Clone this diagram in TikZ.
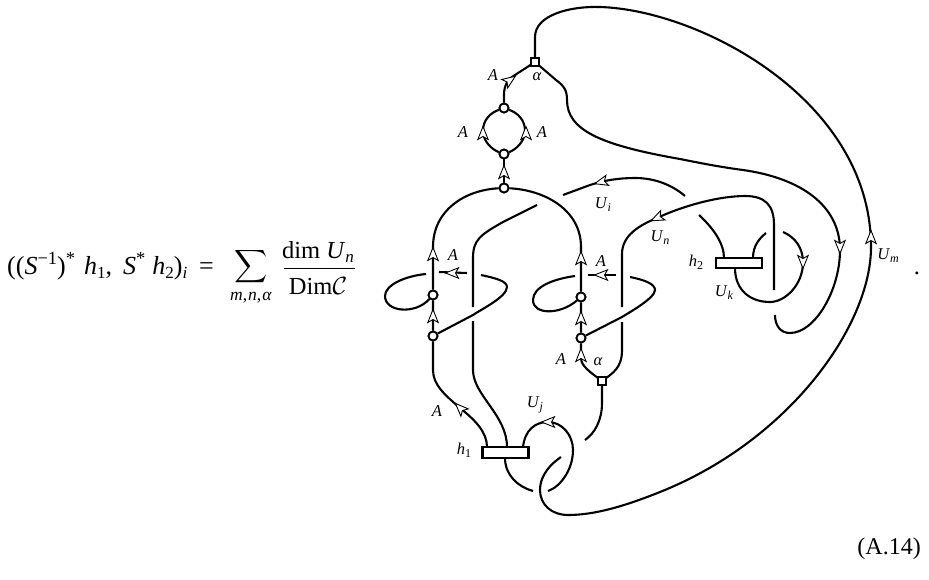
\documentclass[tikz,border=0pt]{standalone}
\usepackage{fontspec}
\setmainfont{Liberation Serif}
\newcommand{\lab}[2]{\textit{#1}\raisebox{-3pt}{\fontsize{12}{12}\selectfont\textit{#2}}}
\newcommand{\bigsup}[1]{\raisebox{9.5pt}{\fontsize{18.5}{18.5}\selectfont #1}}
\newcommand{\bigsub}[1]{\raisebox{-4pt}{\fontsize{17}{17}\selectfont #1}}
\tikzset{
  x=1pt,y=-1pt,
  wire/.style={line width=2.1pt,line cap=butt,line join=round},
  dot/.style={circle,draw,fill=white,line width=1.8pt,minimum size=9pt,inner sep=0pt},
  sq/.style={rectangle,draw,fill=white,line width=1.7pt,minimum size=8pt,inner sep=0pt},
  coup/.style={rectangle,draw,fill=white,line width=2.1pt,inner sep=0pt,minimum width=46pt,minimum height=10.5pt},
  lbl/.style={inner sep=0pt,font=\fontsize{16.5}{16.5}\selectfont},
  eq/.style={inner sep=0pt,font=\fontsize{24.5}{26}\selectfont},
  head/.pic={\filldraw[fill=white,line width=0.9pt,line join=miter] (6.5,0) -- (-6.5,5.2) -- (-3.5,0) -- (-6.5,-5.2) -- cycle;}
}
\begin{document}
\begin{tikzpicture}
\useasboundingbox (0,0) rectangle (929,579);
% vertices
\node[sq] (s1) at (535,62) {};
\node[sq,minimum size=7.5pt] (s2) at (602,381) {};
\node[dot] (a) at (504,108) {};
\node[dot] (b) at (504,154) {};
\node[dot] (c) at (504,188) {};
\node[dot] (l1) at (433,295) {};
\node[dot] (l2) at (433,336) {};
\node[dot] (r1) at (581,297) {};
\node[dot] (r2) at (581,338) {};
\node[coup] (h1) at (505.5,452.5) {};
\node[coup] (h2) at (739,263) {};
% free ends
\coordinate (e1) at (537,205);
\coordinate (e2) at (563,195);
\coordinate (e3) at (685,196);
\coordinate (e4) at (699,215);
\coordinate (e5) at (774,290);
\coordinate (e6) at (775,315);
\coordinate (e7) at (766,233);
\coordinate (e8) at (783,232);
\coordinate (e9) at (533,491);
\coordinate (e10) at (548,491);
\coordinate (e11) at (561,457);
\coordinate (e12) at (585,440);
\coordinate (la) at (426,274);
\coordinate (lb) at (467,273);
\coordinate (lc) at (439,272);
\coordinate (ld) at (481,275);
\coordinate (ra) at (575,276);
\coordinate (rb) at (616,275);
\coordinate (rc) at (588,275);
\coordinate (rd) at (630,277);
\begin{scope}[wire]
% outer arcs
\draw (s1.center) -- (535,37) .. controls (535,15) and (570,6) .. (600,7) .. controls (700,10) and (871,100) .. (871,247) .. controls (871,325) and (790,440) .. (660,492) .. controls (625,506) and (595,515) .. (568,515) .. controls (552,515) and (540,505) .. (540,490) .. controls (540,480) and (545,468) .. (e11);
\draw (s1.center) -- (556,80) .. controls (564,86) and (567,90) .. (567,100) .. controls (567,130) and (600,145) .. (680,159) .. controls (700,163) and (720,167) .. (743,170) .. controls (800,178) and (840,205) .. (840,250) .. controls (840,290) and (815,333) .. (790,333) .. controls (780,333) and (775,325) .. (e6);
% top loop
\draw (s1.center) -- (515,75) .. controls (508,79) and (504,85) .. (504,95) -- (a);
\draw (a) .. controls (490,113) and (483,120) .. (483,131) .. controls (483,142) and (493,150) .. (b);
\draw (a) .. controls (518,113) and (525,120) .. (525,131) .. controls (525,142) and (515,150) .. (b);
\draw (b) -- (c);
% main arch
\draw (c) .. controls (465,190) and (433,210) .. (433,247) -- (l1) -- (l2) -- (433,370) .. controls (433,385) and (445,395) .. (460,408) .. controls (475,420) and (487,432) .. (487,447);
\draw (c) .. controls (545,190) and (581,210) .. (581,247) -- (r1) -- (r2) -- (581,358) .. controls (581,366) and (590,372) .. (s2.center);
% second strand
\draw (e1) -- (503,222) .. controls (480,235) and (473,240) .. (473,258) -- (473,307);
\draw (473,321) -- (473,370) .. controls (473,395) and (507,415) .. (507,447);
% left twist
\draw (lc) -- (lb);
\draw (la) .. controls (405,276) and (385,285) .. (385,296) .. controls (385,312) and (415,315) .. (l1);
\draw (ld) .. controls (495,278) and (507,281) .. (507,287) .. controls (507,297) and (480,310) .. (473,315) -- (l2);
% right twist
\draw (rc) -- (rb);
\draw (ra) .. controls (553,279) and (533,287) .. (533,300) .. controls (533,315) and (560,315) .. (r1);
\draw (rd) .. controls (645,280) and (655,284) .. (655,290) .. controls (655,298) and (630,312) .. (622,317) -- (r2);
% U_i
\draw (e2) -- (590,185) .. controls (605,180) and (620,178) .. (635,178) .. controls (655,178) and (672,185) .. (e3);
% U_n
\draw (s2.center) .. controls (613,373) and (622,368) .. (622,350) -- (622,322);
\draw (622,307) -- (622,254) .. controls (622,235) and (640,225) .. (657,218) .. controls (685,205) and (720,196) .. (745,196) .. controls (765,196) and (774,205) .. (774,225) -- (e5);
% U_k and h2
\draw (e4) .. controls (713,228) and (724,243) .. (724,258);
\draw (753,258) .. controls (753,245) and (760,238) .. (e7);
\draw (e8) .. controls (795,237) and (803,248) .. (803,262) .. controls (803,285) and (785,302) .. (770,302) .. controls (750,302) and (735,290) .. (735,268);
% bottom
\draw (505,458) .. controls (505,475) and (518,487) .. (e9);
\draw (523,447) .. controls (525,430) and (535,422) .. (548,422) .. controls (562,422) and (573,435) .. (573,450) .. controls (573,470) and (560,487) .. (e10);
\draw (s2.center) -- (602,403) .. controls (602,420) and (595,433) .. (e12);
\end{scope}
% redraw vertices above the wires
\node[sq] at (s1) {};
\node[sq,minimum size=7.5pt] at (s2) {};
\foreach \n in {a,b,c,l1,l2,r1,r2} \node[dot] at (\n) {};
\node[coup] at (h1) {};
\node[coup] at (h2) {};
% arrowheads
\pic[rotate=35] at (510,80) {head};
\pic[rotate=90] at (483,133) {head};
\pic[rotate=90] at (526,133) {head};
\pic[rotate=90] at (504,172) {head};
\pic[rotate=90] at (433,254) {head};
\pic[rotate=90] at (433,316) {head};
\pic[rotate=90] at (581,258) {head};
\pic[rotate=90] at (581,318) {head};
\pic[rotate=90] at (581,355) {head};
\pic[rotate=180] at (452,273) {head};
\pic[rotate=180] at (601,275) {head};
\pic[rotate=195] at (601,182) {head};
\pic[rotate=205] at (657,218) {head};
\pic[rotate=135] at (460,408) {head};
\pic[rotate=180] at (548,422) {head};
\pic[rotate=-90] at (803,262) {head};
\pic[rotate=-90] at (840,247) {head};
\pic[rotate=90] at (871,237) {head};
% labels
\node[lbl] (t1) at (493,75) {\textit{A}};
\node[lbl] (t2) at (463,132) {\textit{A}};
\node[lbl] (t3) at (542,132) {\textit{A}};
\node[lbl] (t4) at (537,77) {\textit{α}};
\node[lbl] (t5) at (453,255) {\textit{A}};
\node[lbl] (t6) at (601,261) {\textit{A}};
\node[lbl] (t7) at (561,359) {\textit{A}};
\node[lbl] (t8) at (598,362) {\textit{α}};
\node[lbl] (t9) at (437,411) {\textit{A}};
\node[lbl] (t10) at (603,205) {\lab{U}{i}};
\node[lbl] (t11) at (660,238) {\lab{U}{n}};
\node[lbl] (t12) at (696,262) {\lab{h}{\upshape 2}};
\node[lbl] (t13) at (724,293) {\lab{U}{k}};
\node[lbl] (t14) at (888,256) {\lab{U}{m}};
\node[lbl] (t15) at (464,450) {\lab{h}{\upshape 1}};
\node[lbl] (t16) at (535,405) {\lab{U}{j}};
% formula
\node[eq,anchor=base west,font=\fontsize{26}{28}\selectfont] (f1) at (7,274) {((\textit{S}\bigsup{−1})\bigsup{*}\hspace{9pt}\textit{h}\bigsub{1},\hspace{11pt}\textit{S}\bigsup{*}\hspace{7pt}\textit{h}\bigsub{2})\bigsub{\textit{i}}\hspace{12pt}=};
\node[scale=2.3,inner sep=0pt] (f2) at (251,267) {$\displaystyle\sum$};
\node[lbl,font=\fontsize{17.5}{17.5}\selectfont] (f3) at (251,298) {\textit{m},\kern1pt\textit{n},\kern1pt\textit{α}};
\node[eq] (f4) at (318,252) {dim \textit{U}\bigsub{\textit{n}}};
\node[eq] (f5) at (318,286) {Dim$\mathcal{C}$};
\draw[line width=.8pt] (283.5,268) -- (354.5,268);
\node[eq] (f6) at (917,273) {.};
\node[eq,anchor=east,font=\fontsize{24}{26}\selectfont] (f7) at (921,549) {(A.14)};
\end{tikzpicture}
\end{document}
